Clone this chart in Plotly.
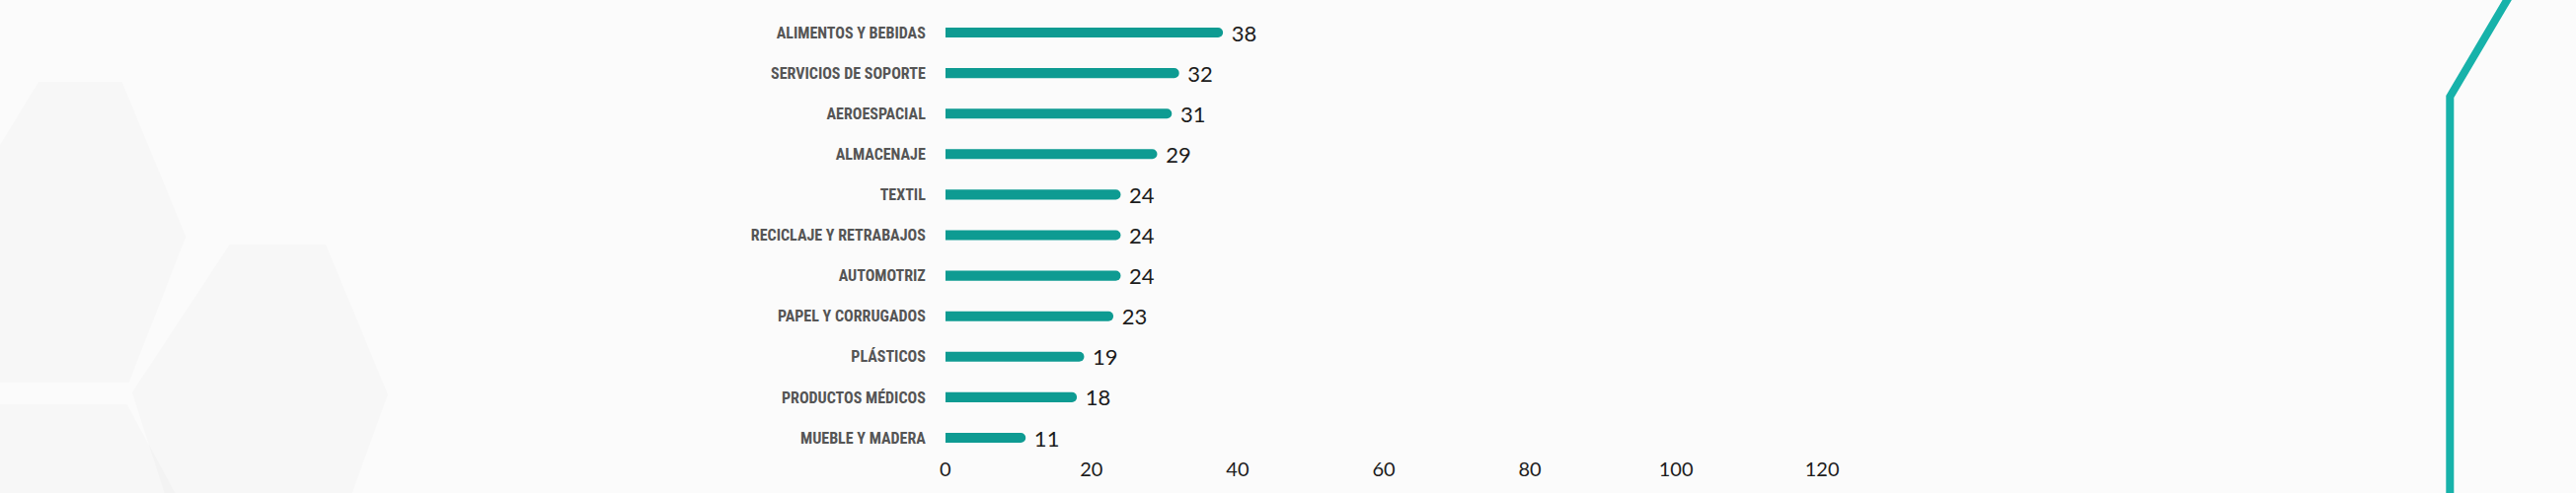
import plotly.graph_objects as go

categories = ["ALIMENTOS Y BEBIDAS", "SERVICIOS DE SOPORTE", "AEROESPACIAL", "ALMACENAJE",
              "TEXTIL", "RECICLAJE Y RETRABAJOS", "AUTOMOTRIZ", "PAPEL Y CORRUGADOS",
              "PLÁSTICOS", "PRODUCTOS MÉDICOS", "MUEBLE Y MADERA"]
values = [38, 32, 31, 29, 24, 24, 24, 23, 19, 18, 11]
tick_values = [0, 20, 40, 60, 80, 100, 120]
tick_labels = ["0", "20", "40", "60", "80", "100", "120"]

W, H = 2610, 500
BAR = "#0e9b92"
LINE = "#17b2aa"

fig = go.Figure()
fig.add_trace(go.Bar(
    x=values, y=categories, orientation="h",
    marker=dict(color=BAR, cornerradius=5, line=dict(width=0)),
    width=0.245,
    text=values, texttemplate=" %{text}", textposition="outside",
    constraintext="none",
    textfont=dict(family="Lato, Noto Sans, sans-serif", size=22, color="#1c1c1c"),
    cliponaxis=False, hoverinfo="skip",
))

def px(x):
    return x / W

def py(y):
    return 1 - y / H

shapes = []
# faint hexagon decorations on the left
hexes = [
    [(-60, 235), (33, 83), (118, 83), (183, 240), (125, 388), (-30, 388)],
    [(128, 398), (227, 248), (325, 248), (388, 400), (330, 560), (180, 560)],
    [(-10, 410), (123, 410), (172, 500), (-10, 500)],
]
for poly in hexes:
    path = "M " + " L ".join(f"{px(a):.5f},{py(b):.5f}" for a, b in poly) + " Z"
    shapes.append(dict(type="path", xref="paper", yref="paper", path=path,
                       fillcolor="rgba(0,0,0,0.016)", line=dict(width=0), layer="below"))
# teal accent line on the right
lp = [(2543, -5), (2482, 98), (2482, 505)]
path = "M " + " L ".join(f"{px(a):.5f},{py(b):.5f}" for a, b in lp)
shapes.append(dict(type="path", xref="paper", yref="paper", path=path,
                   line=dict(color=LINE, width=8), layer="above"))

x0 = 954
scale = 7.42
xr = 150
plot_bottom = 462
row0 = 33
spacing = 41.1

fig.update_layout(
    width=W, height=H,
    margin=dict(l=0, r=0, t=0, b=0, pad=0),
    paper_bgcolor="#fbfbfb",
    plot_bgcolor="rgba(0,0,0,0)",
    showlegend=False,
    shapes=shapes,
    xaxis=dict(
        domain=[x0 / W, (x0 + scale * xr) / W],
        range=[0, xr],
        tickvals=tick_values, ticktext=tick_labels,
        showgrid=False, zeroline=False, showline=False, ticks="",
        tickfont=dict(family="Lato, Noto Sans, sans-serif", size=20, color="#1c1c1c"),
        fixedrange=True,
    ),
    yaxis=dict(
        domain=[(H - plot_bottom) / H, 1],
        categoryorder="array", categoryarray=categories,
        range=[(plot_bottom - row0) / spacing, -row0 / spacing],
        showgrid=False, zeroline=False, showline=False, ticks="",
        ticklabelstandoff=19,
        tickfont=dict(family="Liberation Sans Narrow, Roboto Condensed, Roboto, sans-serif",
                      size=16, color="#555555", weight="bold"),
        fixedrange=True,
    ),
)

fig.write_html("out.html", config={"displayModeBar": False},
               post_script="document.body.style.margin='0';document.body.style.overflow='hidden';")
